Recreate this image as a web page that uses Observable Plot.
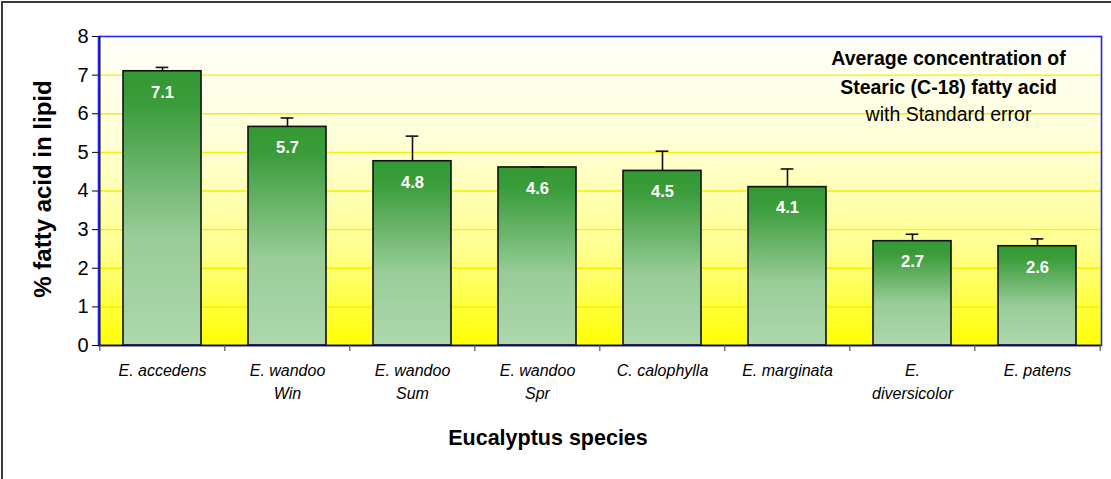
<!DOCTYPE html>
<html>
<head>
<meta charset="utf-8">
<script src="https://cdn.jsdelivr.net/npm/d3@7"></script>
<script src="https://cdn.jsdelivr.net/npm/@observablehq/plot@0.6"></script>
<style>
  html, body { margin: 0; padding: 0; background: #ffffff; }
  #wrap { position: relative; width: 1111px; height: 479px; overflow: hidden; }
  #border { position: absolute; left: 1px; top: 1px; right: -5px; bottom: -5px;
            border-top: 2px solid #3a3a3a; border-left: 2px solid #3a3a3a; pointer-events: none; }
</style>
</head>
<body>
<div id="wrap"><div id="border"></div></div>
<script>
// ---- data ----
const species = ["E. accedens", "E. wandoo Win", "E. wandoo Sum", "E. wandoo Spr",
                 "C. calophylla", "E. marginata", "E. diversicolor", "E. patens"];
const tickLabels = ["E. accedens", "E. wandoo\nWin", "E. wandoo\nSum", "E. wandoo\nSpr",
                    "C. calophylla", "E. marginata", "E.\ndiversicolor", "E. patens"];
const means = [7.10, 5.66, 4.77, 4.61, 4.52, 4.10, 2.70, 2.57];
const stdErrors = [0.10, 0.23, 0.65, 0.01, 0.51, 0.47, 0.18, 0.19];
const valueLabels = ["7.1", "5.7", "4.8", "4.6", "4.5", "4.1", "2.7", "2.6"];
const yTicks = [0, 1, 2, 3, 4, 5, 6, 7, 8];
const gridValues = [1, 2, 3, 4, 5, 6, 7];
const titleLines = ["Average concentration of", "Stearic (C-18) fatty acid"];
const subtitleLine = "with Standard error";
const yLabel = "% fatty acid in lipid";
const xLabel = "Eucalyptus species";

const rows = species.map((s, i) => ({
  species: s, mean: means[i], se: stdErrors[i], top: means[i] + stdErrors[i], label: valueLabels[i]
}));
const tickMap = new Map(species.map((s, i) => [s, tickLabels[i]]));

// ---- layout ----
const W = 1111, H = 479;
const mL = 98, mR = 10, mT = 36, mB = 134;
const padIn = 0.375, padOut = 0.1875;
const step = (W - mL - mR) / (species.length - padIn + 2 * padOut);
const bw = step * (1 - padIn);
const capW = 13;
const capInset = (bw - capW) / 2;
const font = "'Liberation Sans', Arial, Helvetica, sans-serif";

const chart = Plot.plot({
  width: W,
  height: H,
  marginLeft: mL,
  marginRight: mR,
  marginTop: mT,
  marginBottom: mB,
  style: { fontFamily: font, background: "transparent", color: "#000" },
  x: { type: "band", domain: species, paddingInner: padIn, paddingOuter: padOut },
  y: { domain: [0, 8] },
  marks: [
    Plot.frame({ fill: "url(#bgGrad)" }),
    Plot.ruleY(gridValues, { stroke: "#f0f000", strokeWidth: 1.3 }),
    Plot.barY(rows, { x: "species", y: "mean", fill: "url(#barGrad)", stroke: "#111", strokeWidth: 1.6 }),
    Plot.ruleX(rows, { x: "species", y1: "mean", y2: "top", stroke: "#111", strokeWidth: 1.6 }),
    Plot.tickY(rows, { x: "species", y: "top", stroke: "#111", strokeWidth: 1.6,
                       insetLeft: capInset, insetRight: capInset }),
    Plot.text(rows, { x: "species", y: "mean", text: "label", dy: 21, fill: "white",
                      fontWeight: "bold", fontSize: 16.5, lineAnchor: "middle" }),
    Plot.frame({ stroke: "#2424f0", strokeWidth: 1.6 }),
    // axis lines
    Plot.ruleY([0], { stroke: "#111", strokeWidth: 1.6 }),
    Plot.ruleX([species[0]], { y1: 0, y2: 8, dx: -step / 2, stroke: "#111", strokeWidth: 1.4 }),
    // category boundary ticks
    Plot.ruleX(species, { y1: 0, y2: 0, dx: -step / 2, insetBottom: -6, stroke: "#555", strokeWidth: 1.2 }),
    Plot.ruleX([species[species.length - 1]], { y1: 0, y2: 0, dx: step / 2, insetBottom: -6, stroke: "#555", strokeWidth: 1.2 }),
    Plot.axisY({ ticks: yTicks, tickSize: 6, tickPadding: 4, fontSize: 20, label: null, tickFormat: d => String(d) }),
    Plot.axisX({ tickSize: 0, tickPadding: 14, fontSize: 16, fontStyle: "italic", lineHeight: 1.45,
                 label: null, tickFormat: d => tickMap.get(d) }),
    // axis titles
    Plot.text([yLabel], { frameAnchor: "left", rotate: -90, dx: -55, dy: -2, fontSize: 24,
                          fontWeight: "bold", textAnchor: "middle", lineAnchor: "middle" }),
    Plot.text([xLabel], { frameAnchor: "bottom", dx: -52, dy: 93, fontSize: 21.5,
                          fontWeight: "bold", textAnchor: "middle", lineAnchor: "middle" }),
    // in-plot title
    Plot.text([titleLines[0]], { frameAnchor: "top-right", dx: -153, dy: 22, fontSize: 19.5,
                                 fontWeight: "bold", textAnchor: "middle", lineAnchor: "middle" }),
    Plot.text([titleLines[1]], { frameAnchor: "top-right", dx: -153, dy: 51, fontSize: 19.5,
                                 fontWeight: "bold", textAnchor: "middle", lineAnchor: "middle" }),
    Plot.text([subtitleLine], { frameAnchor: "top-right", dx: -153, dy: 78, fontSize: 19.5,
                                textAnchor: "middle", lineAnchor: "middle" })
  ]
});

chart.insertAdjacentHTML("afterbegin", `
<defs>
  <linearGradient id="bgGrad" x1="0" y1="0" x2="0" y2="1">
    <stop offset="0" stop-color="#fffffb"/>
    <stop offset="0.35" stop-color="#ffffd6"/>
    <stop offset="0.7" stop-color="#ffff8c"/>
    <stop offset="1" stop-color="#ffff00"/>
  </linearGradient>
  <linearGradient id="barGrad" x1="0" y1="0" x2="0" y2="1">
    <stop offset="0" stop-color="#339933"/>
    <stop offset="0.12" stop-color="#3a9c3a"/>
    <stop offset="0.6" stop-color="#98cc98"/>
    <stop offset="1" stop-color="#aed7ae"/>
  </linearGradient>
</defs>`);

document.getElementById("wrap").prepend(chart);
</script>
</body>
</html>
